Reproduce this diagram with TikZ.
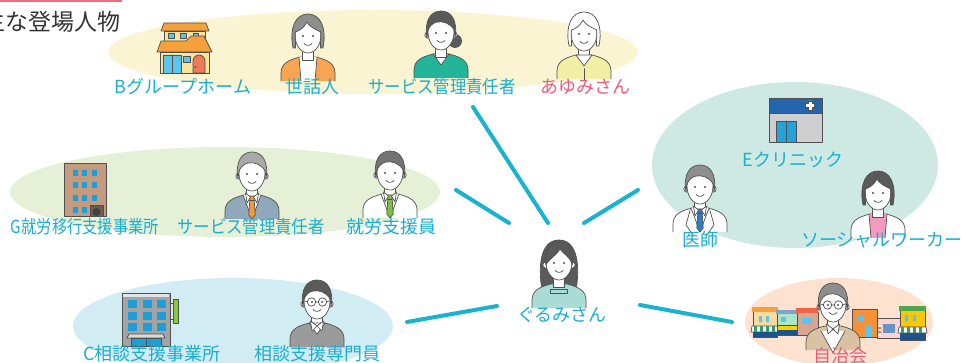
\documentclass[tikz,border=0pt]{standalone}
\usepackage{fontspec}
\newfontfamily\jp{Noto Sans CJK JP}

% palette
\definecolor{ink}{HTML}{505050}
\definecolor{labC}{HTML}{1AAECF}
\definecolor{lineC}{HTML}{19B3CD}
\definecolor{pinkC}{HTML}{EE5A77}
\definecolor{titleC}{HTML}{333333}
\definecolor{barC}{HTML}{EF6E7C}
\definecolor{ylw}{HTML}{FBF4D3}
\definecolor{tealbg}{HTML}{CEE8E4}
\definecolor{grn}{HTML}{E5F0D6}
\definecolor{blu}{HTML}{D2ECF3}
\definecolor{pch}{HTML}{FCE2CF}
\definecolor{houseOr}{HTML}{F6A03C}
\definecolor{houseCr}{HTML}{F8E49A}
\definecolor{winB}{HTML}{5CC5EE}
\definecolor{doorR}{HTML}{EE7A5A}
\definecolor{clinicBl}{HTML}{2466AE}
\definecolor{clinicGr}{HTML}{CFCFCF}
\definecolor{clinicDoor}{HTML}{23A3DA}
\definecolor{bldBr}{HTML}{C49B7F}
\definecolor{bldWin}{HTML}{1E9ED8}
\definecolor{bldDoor}{HTML}{6C5B50}
\definecolor{bldGr}{HTML}{A3A3A3}
\definecolor{signG}{HTML}{8CC63F}
\definecolor{hairGray}{HTML}{8E8E8E}
\definecolor{hairLight}{HTML}{A9A9A9}
\definecolor{hairDark}{HTML}{5A5A5A}
\definecolor{clOrange}{HTML}{F7A552}
\definecolor{clTeal}{HTML}{22B59A}
\definecolor{clYellow}{HTML}{F0EFA5}
\definecolor{clSuit}{HTML}{8FA8BB}
\definecolor{tieOr}{HTML}{F39A3C}
\definecolor{tieGr}{HTML}{7CC242}
\definecolor{tieBl}{HTML}{2D7FC1}
\definecolor{clJacket}{HTML}{9B9B9B}
\definecolor{clPink}{HTML}{F49AC0}
\definecolor{clMint}{HTML}{A9DCD6}
\definecolor{clVest}{HTML}{D8C2A3}

\tikzset{
  o/.style={draw=ink, line width=0.7pt, line join=round, line cap=round},
  lab/.style={font=\jp\fontsize{18}{21}\selectfont, text=labC, inner sep=0pt},
  conn/.style={draw=lineC, line width=4pt, line cap=round},
  % person parts, head centred at the origin
  pics/torso/.style={code={
    \fill[#1] (-27,46) -- (-27,38) .. controls (-27,29) and (-20,25) .. (-8,22) -- (8,22) .. controls (20,25) and (27,29) .. (27,38) -- (27,46) -- cycle;
    \draw[o] (-27,46) -- (-27,38) .. controls (-27,29) and (-20,25) .. (-8,22) -- (8,22) .. controls (20,25) and (27,29) .. (27,38) -- (27,46);
  }},
  pics/inner/.style={code={
    \fill[#1] (-9,22) -- (-7,46) -- (7,46) -- (9,22) -- cycle;
    \draw[o] (-9,22) -- (-7,46) (7,46) -- (9,22);
  }},
  pics/vneck/.style={code={
    \filldraw[o, fill=#1] (-8,22) -- (0,33) -- (8,22) -- cycle;
  }},
  pics/neck/.style={code={
    \filldraw[o, fill=white] (-5.5,12) rectangle (5.5,25);
  }},
  pics/tie/.style={code={
    \fill[white] (-9,22) -- (0,46) -- (9,22) -- cycle;
    \draw[o] (-9,22) -- (0,46) -- (9,22);
    \filldraw[o, fill=#1] (-2.2,27) -- (2.2,27) -- (3.2,42) -- (0,46) -- (-3.2,42) -- cycle;
    \filldraw[o, fill=#1] (-2.5,23) -- (2.5,23) -- (2,27.5) -- (-2,27.5) -- cycle;
    \filldraw[o, fill=white] (-6.5,20) -- (-1.5,24) -- (-5,30) -- cycle;
    \filldraw[o, fill=white] (6.5,20) -- (1.5,24) -- (5,30) -- cycle;
  }},
  pics/collar/.style={code={
    \filldraw[o, fill=white] (-6.5,20) -- (0,25) -- (-5,30) -- cycle;
    \filldraw[o, fill=white] (6.5,20) -- (0,25) -- (5,30) -- cycle;
  }},
  pics/head/.style={code={
    \filldraw[o, fill=white] (-13,3) circle[radius=3.2] (13,3) circle[radius=3.2];
    \filldraw[o, fill=white] (0,0) ellipse[x radius=13, y radius=18];
    \fill[ink] (-5,1) circle[radius=1.2] (5,1) circle[radius=1.2];
    \draw[o] (-4,8.5) .. controls (-2,11) and (2,11) .. (4,8.5);
  }},
  pics/hshort/.style={code={
    \filldraw[o, fill=#1] (-14,6) .. controls (-17,-12) and (-10,-21) .. (0,-21) .. controls (10,-21) and (17,-12) .. (14,6) -- (13.2,-2) .. controls (9,-9) and (2,-11) .. (-4,-10) .. controls (-9,-9) and (-12,-5) .. (-13.2,-1) -- cycle;
  }},
  pics/hbob/.style={code={
    \filldraw[o, fill=#1] (-15,13) .. controls (-19,-8) and (-12,-21) .. (0,-21) .. controls (12,-21) and (19,-8) .. (15,13) -- (12.5,13) -- (12.8,-3) .. controls (6,-6) and (1,-9) .. (-1,-13) .. controls (-4,-7) and (-9,-4) .. (-12.8,-3) -- (-12.5,13) -- cycle;
  }},
  pics/hlong/.style={code={
    \filldraw[o, fill=#1] (-17,28) .. controls (-21,5) and (-19,-22) .. (0,-22) .. controls (19,-22) and (21,5) .. (17,28) -- cycle;
  }},
  pics/hfringe/.style={code={
    \filldraw[o, fill=#1] (-13.3,3) .. controls (-15,-14) and (-7,-19.5) .. (0,-19.5) .. controls (8,-19.5) and (15,-14) .. (13.3,3) .. controls (11,-6) and (4,-8) .. (1,-13) .. controls (-2,-7) and (-8,-5) .. (-13.3,3) -- cycle;
  }},
  pics/bun/.style={code={
    \filldraw[o, fill=#1] (14,9) circle[radius=6.5];
  }},
  pics/glasses/.style={code={
    \draw[o] (-5.5,1) circle[radius=4.2] (5.5,1) circle[radius=4.2] (-1.3,1) -- (1.3,1) (-9.7,0.5) -- (-13,0) (9.7,0.5) -- (13,0);
  }},
}

\begin{document}
\begin{tikzpicture}[x=1pt, y=-1pt]
\useasboundingbox (0,0) rectangle (966,363);

% heading
\fill[barC] (0,0) rectangle (122,2.5);
\node[anchor=east, font=\jp\fontsize{23}{26}\selectfont, text=titleC, inner sep=0pt] (title) at (121,22) {主な登場人物};

% group backgrounds
\fill[ylw] (373,52) ellipse[x radius=265, y radius=42];
\fill[tealbg] (795,165) ellipse[x radius=143, y radius=83];
\fill[grn] (225,192) ellipse[x radius=215, y radius=45];
\fill[blu] (233,326) ellipse[x radius=160, y radius=48];
\fill[pch] (839,322) ellipse[x radius=94, y radius=44];

% ---- B group home (house)
\filldraw[o, fill=houseCr] (164,31) rectangle (205,41);
\filldraw[o, fill=houseOr] (161,31) -- (164,23) -- (206,23) -- (209,31) -- cycle;
\filldraw[o, fill=winB] (168,33) rectangle (174,38) (180,33) rectangle (186,38) (193,33) rectangle (198,37);
\filldraw[o, fill=houseCr] (160,52) rectangle (209,73);
\filldraw[o, fill=houseOr] (157,52) -- (161,41) -- (186,41) -- (191,36) -- (204,36) -- (212,52) -- cycle;
\filldraw[o, fill=winB] (163,55) rectangle (181,73);
\draw[o] (172,55) -- (172,73);
\filldraw[o, fill=winB] (183,56) rectangle (190,62);
\filldraw[o, fill=doorR] (193,73) -- (193,61) arc[start angle=180, end angle=360, radius=6] -- (205,73) -- cycle;
\fill[ink] (195.5,67) circle[radius=1];

% ---- E clinic
\filldraw[o, fill=clinicGr] (769,113) rectangle (822,142);
\filldraw[o, fill=clinicBl] (769,98) rectangle (822,113);
\filldraw[o, fill=white] (808,101) -- (812,101) -- (812,103.5) -- (814.5,103.5) -- (814.5,107.5) -- (812,107.5) -- (812,110) -- (808,110) -- (808,107.5) -- (805.5,107.5) -- (805.5,103.5) -- (808,103.5) -- cycle;
\filldraw[o, fill=clinicDoor] (776,121) rectangle (796,142);
\draw[o] (786,121) -- (786,142);

% ---- G office (brown building)
\filldraw[o, fill=bldBr] (64,163) rectangle (106,216);
\foreach \yy in {170,182,195,207} {
  \foreach \xx in {73,82,92} {
    \fill[bldWin] (\xx,\yy) rectangle ++(5,6);
  }
}
\filldraw[o, fill=bldDoor] (90,205) rectangle (103,216);
\fill[ink!80!black] (96.5,212) circle[radius=4];

% ---- C office (grey building)
\filldraw[o, fill=bldGr] (122,293) rectangle (170,346);
\fill[white!70!bldGr] (123,294) rectangle (169,297);
\foreach \yy in {300,312,323} {
  \foreach \xx in {128,143,157} {
    \fill[bldWin] (\xx,\yy) rectangle ++(9,8);
  }
}
\filldraw[o, fill=white!60!bldGr] (127,338) -- (165,338) -- (163,334) -- (129,334) -- cycle;
\filldraw[o, fill=bldWin] (131,338) rectangle (161,346);
\draw[o] (146,338) -- (146,346);
\draw[o] (170,303) -- (173,303) (170,319) -- (173,319);
\filldraw[o, fill=signG] (173,299) rectangle (178,323);

% ---- neighbourhood shops
\filldraw[o, fill=white!40!houseCr!80!orange] (753,310) rectangle (777,337);
\fill[houseOr] (752,307) rectangle (778,312);
\fill[winB] (759,316) rectangle (762,322) (766,316) rectangle (769,322);
\filldraw[o, fill=white] (752,326) -- (778,326) -- (779,332) -- (751,332) -- cycle;
\foreach \xx in {754,760,766,772} { \fill[signG!40!teal] (\xx,326) rectangle ++(3,6); }
\fill[clinicBl!80!black] (753,332) rectangle (777,337);
\filldraw[o, fill=green!15!white!80!teal] (777,313) rectangle (798,335);
\fill[clinicBl!60!white] (776,310) rectangle (799,314);
\fill[winB] (781,317) rectangle (786,322);
\filldraw[o, fill=yellow!70!orange] (777,325) rectangle (798,330);
\fill[clinicBl!80!black] (778,330) rectangle (797,335);
\filldraw[o, fill=bldBr!70!pink] (797,312) rectangle (818,335);
\fill[doorR!80!red] (796,308) -- (818,308) -- (818,313) -- (796,313) -- cycle;
\fill[winB] (802,318) rectangle (812,324);
\filldraw[o, fill=houseOr!90!red] (852,309) rectangle (877,337);
\fill[winB] (857,316) rectangle (864,321) (865,325) rectangle (872,337);
\filldraw[o, fill=pink!70!white] (877,318) rectangle (900,338);
\fill[clinicBl!70!white] (883,324) rectangle (895,333);
\fill[white] (878,325) rectangle (881,336);
\fill[doorR] (878,327) rectangle (881,329) (878,331) rectangle (881,333);
\filldraw[o, fill=yellow!60!orange] (900,310) rectangle (925,340);
\fill[green!50!black!70!white] (899,306) -- (926,306) -- (926,311) -- (899,311) -- cycle;
\fill[winB] (905,315) rectangle (908,321) (913,315) rectangle (916,321);
\filldraw[o, fill=white] (899,327) -- (926,327) -- (927,333) -- (898,333) -- cycle;
\foreach \xx in {901,907,913,919} { \fill[signG!40!teal] (\xx,327) rectangle ++(3,6); }
\fill[clinicBl!80!black] (900,333) rectangle (925,340);

% ---- people
% care worker
\begin{scope}[shift={(308,35)}, scale=1.1]
  \pic {torso=clOrange}; \pic {inner=white}; \pic {neck}; \pic {head}; \pic {hbob=hairGray};
\end{scope}
% service manager (group home)
\begin{scope}[shift={(441,32)}, scale=1.05]
  \pic {torso=clTeal}; \pic {vneck=white}; \pic {neck}; \pic {bun=hairDark}; \pic {head}; \pic {hshort=hairDark};
\end{scope}
% Ayumi
\begin{scope}[shift={(584,33)}, scale=1.08]
  \pic {torso=clYellow}; \pic {neck}; \pic {vneck=white}; \draw[o] (0,33) -- (0,44);
  \pic {head}; \pic {hbob=white};
\end{scope}
% service manager (office G)
\begin{scope}[shift={(252,173)}, scale=1.1]
  \pic {torso=clSuit}; \pic {neck}; \pic {tie=tieOr}; \pic {head}; \pic {hshort=hairLight};
\end{scope}
% job coach
\begin{scope}[shift={(390,172)}, scale=1.13]
  \pic {torso=white}; \pic {neck}; \pic {tie=tieGr}; \pic {head}; \pic {hshort=hairDark!85!white};
\end{scope}
% consultant
\begin{scope}[shift={(317,301)}, scale=1.05]
  \pic {torso=clJacket}; \pic {neck}; \pic {vneck=white}; \pic {collar}; \pic {head}; \pic {hshort=hairDark}; \pic {glasses};
\end{scope}
% doctor
\begin{scope}[shift={(700,186)}, scale=1.08]
  \pic {torso=white}; \pic {neck}; \pic {tie=tieBl}; \draw[o] (-9,22) -- (-13,36) -- (-6,46) (9,22) -- (13,36) -- (6,46);
  \pic {head}; \pic {hshort=hairGray};
\end{scope}
% social worker
\begin{scope}[shift={(878,192)}, scale=1.13]
  \pic {torso=white}; \pic {inner=clPink}; \pic {neck}; \pic {head}; \pic {hbob=hairDark};
\end{scope}
% Gurumi
\begin{scope}[shift={(559,262)}, scale=1.2]
  \pic {hlong=hairDark};
  \begin{scope}[xscale=0.85] \pic {torso=clMint}; \end{scope}
  \pic {neck};
  \filldraw[o, fill=clMint] (-7,23) -- (7,23) -- (7,26) -- (-7,26) -- cycle;
  \pic {head}; \pic {hfringe=hairDark};
\end{scope}
% neighbourhood association
\begin{scope}[shift={(833,304)}, scale=1.22]
  \pic {torso=clVest}; \pic {neck};
  \fill[white] (-10,22) -- (0,40) -- (10,22) -- cycle;
  \draw[o] (-10,22) -- (0,40) -- (10,22);
  \pic {collar}; \pic {head}; \pic {hshort=hairGray}; \pic {glasses};
\end{scope}

% ---- labels
\node[lab] (tB)   at (183,87)  {Bグループホーム};
\node[lab] (tSw)  at (312,87)  {世話人};
\node[lab] (tSv1) at (442,87)  {\scalebox{0.91}[1]{サービス管理責任者}};
\node[lab, text=pinkC] (tAy) at (585,87) {あゆみさん};
\node[lab] (tG)   at (85,227)  {\scalebox{0.85}[1]{G就労移行支援事業所}};
\node[lab] (tSv2) at (251,227) {\scalebox{0.91}[1]{サービス管理責任者}};
\node[lab] (tJs)  at (391,227) {就労支援員};
\node[lab] (tC)   at (152,354) {C相談支援事業所};
\node[lab] (tSd)  at (317,354) {相談支援専門員};
\node[lab] (tE)   at (793,160) {Eクリニック};
\node[lab] (tDr)  at (700,240) {医師};
\node[lab] (tSwk) at (882,240) {ソーシャルワーカー};
\node[lab] (tGu)  at (562,315) {ぐるみさん};
\node[lab, text=pinkC] (tJi) at (840,356) {自治会};

% ---- connectors around Gurumi
\coordinate (a1) at (473,107); \coordinate (b1) at (548,223);
\coordinate (a2) at (456,190); \coordinate (b2) at (509,223);
\coordinate (a3) at (638,190); \coordinate (b3) at (584,223);
\coordinate (a4) at (407,322); \coordinate (b4) at (497,306);
\coordinate (a5) at (732,322); \coordinate (b5) at (640,305);
\draw[conn] (a1) -- (b1);
\draw[conn] (a2) -- (b2);
\draw[conn] (a3) -- (b3);
\draw[conn] (a4) -- (b4);
\draw[conn] (a5) -- (b5);
\end{tikzpicture}
\end{document}
